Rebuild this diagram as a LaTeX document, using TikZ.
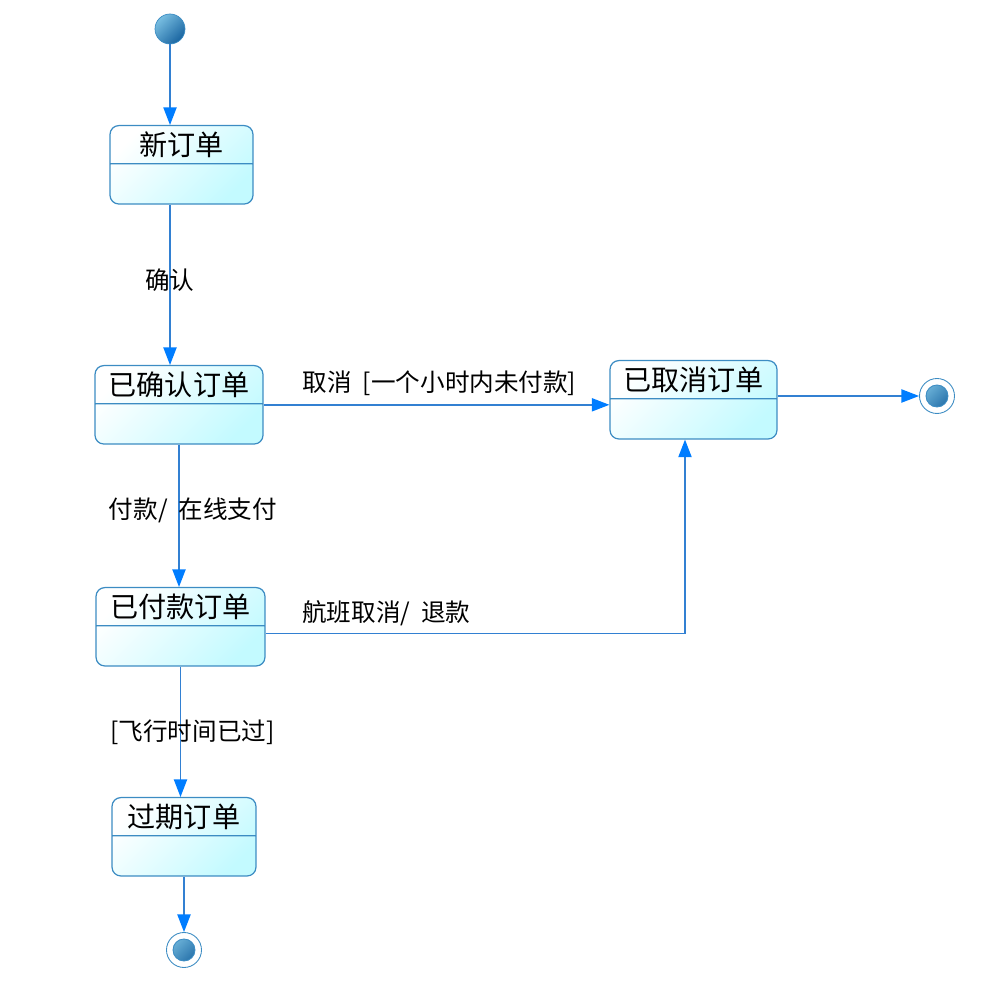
\documentclass[tikz,border=0pt]{standalone}
\usepackage{fontspec}
\setmainfont{Noto Sans CJK SC}
\usetikzlibrary{arrows.meta, positioning, calc, shapes.multipart}
\definecolor{statebd}{RGB}{60,140,195}
\definecolor{statecyan}{RGB}{195,250,255}
\definecolor{linebl}{RGB}{50,128,210}
\definecolor{tipbl}{RGB}{0,125,255}
\definecolor{balldark}{RGB}{25,100,160}
\definecolor{balllight}{RGB}{120,190,225}
\tikzset{
  state/.style={rectangle split, rectangle split parts=2, draw=statebd,
    line width=0.7pt, rounded corners=5pt, left color=white,
    right color=statecyan, shading angle=45, inner ysep=0.11cm,
    rectangle split empty part height=0.56cm,
    rectangle split empty part depth=0pt,
    font=\fontsize{16}{18}\selectfont, anchor=north},
  initst/.style={circle, minimum size=0.6cm, inner sep=0pt, draw=statebd,
    line width=0.4pt, left color=balllight, right color=balldark,
    shading angle=45},
  finalst/.style={circle, minimum size=0.7cm, inner sep=0pt, draw=statebd,
    line width=0.5pt, fill=white,
    path picture={\shade[draw=statebd, left color=balllight,
      right color=balldark, shading angle=45]
      (path picture bounding box.center) circle (0.22cm);}},
  trans/.style={draw=linebl, line width=0.8pt,
    -{Triangle[length=10pt,width=7.5pt,color=tipbl]}},
  lbl/.style={font=\fontsize{14}{16}\selectfont, text=black}
}
\begin{document}
\begin{tikzpicture}[x=0.02cm, y=-0.02cm]
  \useasboundingbox (0,0) rectangle (992,982);

  % states
  \node[initst] (init) at (170,29) {};
  \node[state, minimum width=2.86cm] (xin) at (181.5,125) {新订单};
  \node[state, minimum width=3.36cm] (qr) at (179,365) {已确认订单};
  \node[state, minimum width=3.34cm] (qx) at (693.5,360) {已取消订单};
  \node[state, minimum width=3.38cm] (qf) at (180.5,587) {已付款订单};
  \node[state, minimum width=2.88cm] (gq) at (184,797) {过期订单};
  \node[finalst] (end1) at (937,396) {};
  \node[finalst] (end2) at (184,950) {};

  % transitions
  \draw[trans] (init) -- (init |- xin.north);
  \draw[trans] (xin.south -| init) -- node[lbl, pos=0.47] {确认} (qr.north -| init);
  \draw[trans] (qr.east) -- node[lbl, above=0.05cm, xshift=0.06cm] {取消 \ [一个小时内未付款]} (qr.east -| qx.west);
  \draw[trans] (qx.east |- end1) -- (end1);
  \draw[trans] (qr.south) -- node[lbl, pos=0.46, xshift=0.28cm] {付款/ \ 在线支付} (qr.south |- qf.north);
  \draw[trans] ([yshift=-0.14cm]qf.east) -| node[lbl, pos=0.144, above=0.03cm] {航班取消/ \ 退款} ([xshift=-0.17cm]qx.south);
  \draw[trans] (qf.south) -- node[lbl, xshift=0.24cm] {[飞行时间已过]} (qf.south |- gq.north);
  \draw[trans] (gq) -- (end2);
\end{tikzpicture}
\end{document}
